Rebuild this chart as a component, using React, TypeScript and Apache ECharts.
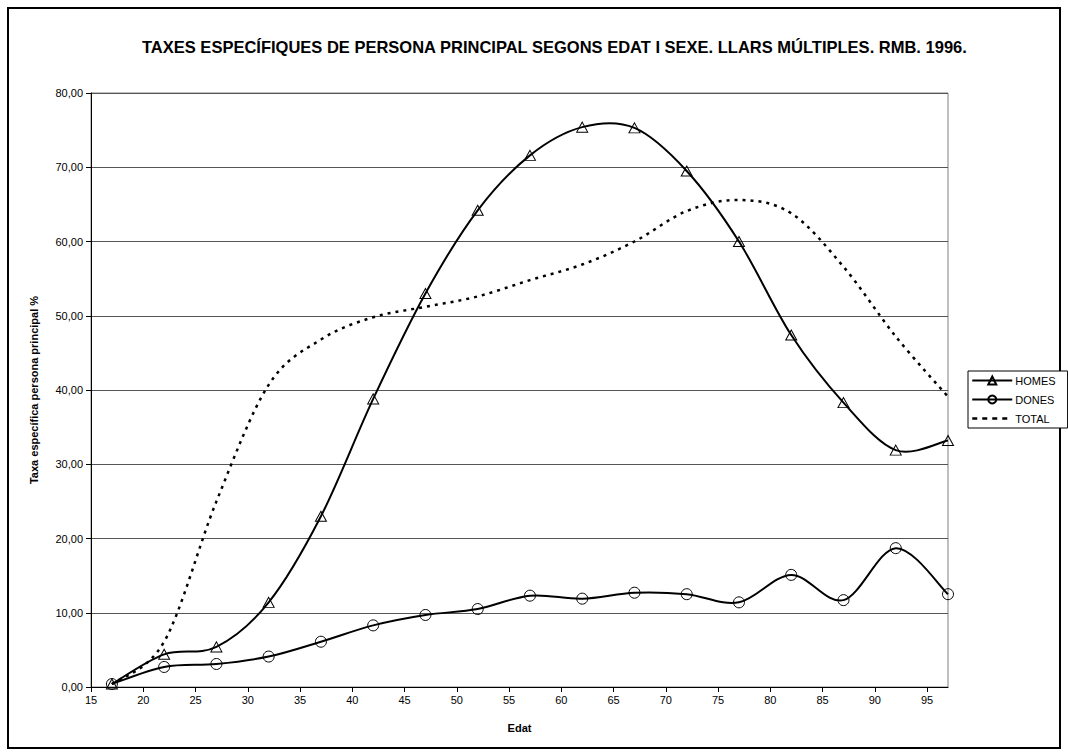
import React, { useEffect, useRef } from "react";
import * as echarts from "echarts";

const ages = [17, 22, 27, 32, 37, 42, 47, 52, 57, 62, 67, 72, 77, 82, 87, 92, 97];
const homes = [0.4, 4.4, 5.4, 11.4, 23.0, 38.8, 53.0, 64.2, 71.6, 75.4, 75.3, 69.5, 60.0, 47.4, 38.3, 31.9, 33.2];
const dones = [0.4, 2.7, 3.1, 4.1, 6.1, 8.3, 9.7, 10.5, 12.3, 11.9, 12.7, 12.5, 11.4, 15.1, 11.7, 18.7, 12.5];
const total = [0.4, 6.1, 25.0, 40.7, 46.8, 49.8, 51.2, 52.6, 54.8, 56.9, 60.0, 64.1, 65.6, 63.8, 56.6, 47.2, 39.1];

const titleText = "TAXES ESPECÍFIQUES DE PERSONA PRINCIPAL SEGONS EDAT I SEXE. LLARS MÚLTIPLES. RMB. 1996.";
const xName = "Edat";
const yName = "Taxa específica persona principal %";

const FONT = "'Liberation Sans', Arial, sans-serif";

function curveSeries(name: string, values: number[], lineStyle: any) {
  const data = ages.map((a, i) => [a, values[i]]);
  return {
    name,
    type: "custom",
    data,
    encode: { x: 0, y: 1 },
    silent: true,
    z: 2,
    renderItem: (params: any, api: any) => {
      if (params.dataIndex !== 0) return null;
      const pts = data.map((d) => api.coord(d));
      const n = pts.length;
      const t = 1 / 6;
      let d = `M${pts[0][0]},${pts[0][1]}`;
      for (let i = 0; i < n - 1; i++) {
        const p0 = pts[Math.max(i - 1, 0)];
        const p1 = pts[i];
        const p2 = pts[i + 1];
        const p3 = pts[Math.min(i + 2, n - 1)];
        const c1x = p1[0] + (p2[0] - p0[0]) * t;
        const c1y = p1[1] + (p2[1] - p0[1]) * t;
        const c2x = p2[0] - (p3[0] - p1[0]) * t;
        const c2y = p2[1] - (p3[1] - p1[1]) * t;
        d += ` C${c1x},${c1y} ${c2x},${c2y} ${p2[0]},${p2[1]}`;
      }
      return {
        type: "path",
        shape: { pathData: d },
        style: Object.assign({ fill: "none", stroke: "#000" }, lineStyle),
      };
    },
  };
}

export default function App() {
  const ref = useRef<HTMLDivElement>(null);
  useEffect(() => {
    if (!ref.current) return;
    const chart = echarts.init(ref.current, null, { renderer: "svg" });
    const pair = (arr: number[]) => ages.map((a, i) => [a, arr[i]]);
    chart.setOption({
      animation: false,
      backgroundColor: "#fff",
      textStyle: { fontFamily: FONT, color: "#000" },
      title: {
        text: titleText,
        left: 137,
        top: 33,
        textStyle: { fontFamily: FONT, fontSize: 16.5, fontWeight: "bold", color: "#000" },
      },
      graphic: [
        {
          type: "rect",
          shape: { x: 8, y: 8, width: 1052, height: 740 },
          style: { fill: "none", stroke: "#000", lineWidth: 2 },
          silent: true,
          z: 0,
        },
      ],
      legend: {
        orient: "vertical",
        left: 968,
        top: 371,
        itemWidth: 40,
        itemHeight: 10,
        itemGap: 8,
        padding: [4, 12, 4, 3],
        borderColor: "#000",
        borderWidth: 1,
        backgroundColor: "#fff",
        textStyle: { fontFamily: FONT, fontSize: 11, color: "#000", padding: [0, 0, 0, -2] },
        lineStyle: { opacity: 1, color: "#000", width: 2 },
        data: [
          { name: "HOMES" },
          { name: "DONES" },
          { name: "TOTAL", itemStyle: { opacity: 0 }, lineStyle: { type: [5, 5], width: 2.5 } },
        ],
      },
      grid: {
        left: 91,
        right: 120,
        top: 93,
        bottom: 69,
        show: true,
        borderColor: "#808080",
        borderWidth: 1,
        backgroundColor: "transparent",
      },
      xAxis: {
        type: "value",
        min: 15,
        max: 97,
        interval: 5,
        name: xName,
        nameLocation: "middle",
        nameGap: 35,
        nameTextStyle: { fontFamily: FONT, fontSize: 11, fontWeight: "bold", color: "#000" },
        axisLine: { show: true, lineStyle: { color: "#000", width: 1 } },
        axisTick: { show: true, length: 5, lineStyle: { color: "#000" } },
        axisLabel: { showMaxLabel: false, fontFamily: FONT, fontSize: 11, color: "#000", margin: 7 },
        splitLine: { show: false },
      },
      yAxis: {
        type: "value",
        min: 0,
        max: 80,
        interval: 10,
        name: yName,
        nameLocation: "middle",
        nameGap: 52,
        nameTextStyle: { fontFamily: FONT, fontSize: 11, fontWeight: "bold", color: "#000" },
        axisLine: { show: true, lineStyle: { color: "#000", width: 1 } },
        axisTick: { show: true, length: 5, lineStyle: { color: "#000" } },
        axisLabel: {
          fontFamily: FONT,
          fontSize: 11,
          color: "#000",
          margin: 8,
          formatter: (v: number) => v.toFixed(2).replace(".", ","),
        },
        splitLine: { show: true, lineStyle: { color: "#555", width: 1 } },
      },
      series: [
        {
          name: "HOMES",
          type: "line",
          data: pair(homes),
          symbol: "triangle",
          symbolSize: [11, 10],
          lineStyle: { color: "#000", width: 2, opacity: 0 },
          itemStyle: { color: "rgba(255,255,255,0)", borderColor: "#000", borderWidth: 1 },
          z: 3,
        },
        {
          name: "DONES",
          type: "line",
          data: pair(dones),
          symbol: "circle",
          symbolSize: 11,
          lineStyle: { color: "#000", width: 2, opacity: 0 },
          itemStyle: { color: "rgba(255,255,255,0)", borderColor: "#000", borderWidth: 1 },
          z: 3,
        },
        {
          name: "TOTAL",
          type: "line",
          data: pair(total),
          symbol: "none",
          lineStyle: { color: "#000", width: 2.5, type: [3, 5], opacity: 0 },
          itemStyle: { color: "#000" },
          z: 2,
        },
        curveSeries("homesCurve", homes, { lineWidth: 2 }),
        curveSeries("donesCurve", dones, { lineWidth: 2 }),
        curveSeries("totalCurve", total, { lineWidth: 2.5, lineDash: [3, 5] }),
      ],
    });
    return () => chart.dispose();
  }, []);
  return (
    <div
      ref={ref}
      style={{ position: "fixed", left: 0, top: 0, width: 1068, height: 756 }}
    />
  );
}
